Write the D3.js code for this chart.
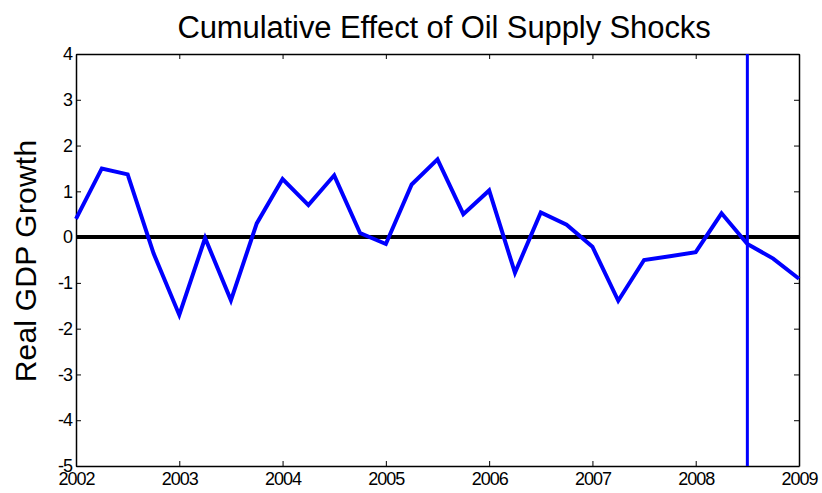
<!DOCTYPE html>
<html>
<head>
<meta charset="utf-8">
<script src="https://cdn.jsdelivr.net/npm/d3@7"></script>
<style>
  body { margin: 0; background: #fff; }
  svg { font-family: "Liberation Sans", Arial, sans-serif; }
</style>
</head>
<body>
<div id="chart"></div>
<script>
const width = 822;
const height = 493;

// quarterly dates, 2002Q1 .. 2009Q1
const quarters = [
    2002.00, 2002.25, 2002.50, 2002.75,
    2003.00, 2003.25, 2003.50, 2003.75,
    2004.00, 2004.25, 2004.50, 2004.75,
    2005.00, 2005.25, 2005.50, 2005.75,
    2006.00, 2006.25, 2006.50, 2006.75,
    2007.00, 2007.25, 2007.50, 2007.75,
    2008.00, 2008.25, 2008.50, 2008.75,
    2009.00
];
const gdpEffect = [
    0.40, 1.50, 1.37, -0.35,
    -1.70, -0.02, -1.38, 0.30,
    1.27, 0.70, 1.35, 0.09,
    -0.15, 1.15, 1.70, 0.50,
    1.02, -0.78, 0.54, 0.27,
    -0.21, -1.39, -0.50, -0.42,
    -0.33, 0.52, -0.15, -0.47,
    -0.91
];
const xTicks = [2002, 2003, 2004, 2005, 2006, 2007, 2008, 2009];
const yTicks = [4, 3, 2, 1, 0, -1, -2, -3, -4, -5];
const markerDate = 2008.5;

const margin = { top: 54, right: 23, bottom: 27, left: 76 };
const innerW = width - margin.left - margin.right;
const innerH = height - margin.top - margin.bottom;

const svg = d3.select('#chart')
    .append('svg')
    .attr('width', width)
    .attr('height', height);

const g = svg.append('g')
    .attr('transform', `translate(${margin.left},${margin.top})`);

const x = d3.scaleLinear().domain([2002, 2009]).range([0, innerW]);
const y = d3.scaleLinear().domain([-5, 4]).range([innerH, 0]);

// plain hyphen for negatives, like the original
const fmt = d => String(d);

// axes, matlab style: inward ticks on all sides
const tickLen = 5;
g.append('g')
    .attr('transform', `translate(0,${innerH})`)
    .call(d3.axisBottom(x).tickValues(xTicks).tickFormat(fmt)
        .tickSizeInner(-tickLen).tickSizeOuter(0).tickPadding(6));
g.append('g')
    .call(d3.axisTop(x).tickValues(xTicks).tickFormat('')
        .tickSizeInner(-tickLen).tickSizeOuter(0));
g.append('g')
    .call(d3.axisLeft(y).tickValues(yTicks).tickFormat(fmt)
        .tickSizeInner(-tickLen).tickSizeOuter(0).tickPadding(4));
g.append('g')
    .attr('transform', `translate(${innerW},0)`)
    .call(d3.axisRight(y).tickValues(yTicks).tickFormat('')
        .tickSizeInner(-tickLen).tickSizeOuter(0));

g.selectAll('.domain').attr('stroke', '#000').attr('stroke-width', 1.5);
g.selectAll('.tick line').attr('stroke', '#000');
g.selectAll('.tick text')
    .attr('fill', '#000')
    .style('font-size', '18px')
    .style('letter-spacing', '-1px');

// zero line
g.append('line')
    .attr('x1', 0).attr('x2', innerW)
    .attr('y1', y(0)).attr('y2', y(0))
    .attr('stroke', '#000')
    .attr('stroke-width', 4);

// vertical marker
g.append('line')
    .attr('x1', x(markerDate)).attr('x2', x(markerDate))
    .attr('y1', 0).attr('y2', innerH)
    .attr('stroke', '#0000ff')
    .attr('stroke-width', 3);

// series
const line = d3.line()
    .x((d, i) => x(quarters[i]))
    .y(d => y(d));

g.append('path')
    .datum(gdpEffect)
    .attr('d', line)
    .attr('fill', 'none')
    .attr('stroke', '#0000ff')
    .attr('stroke-width', 4)
    .attr('stroke-linejoin', 'miter');

// title
svg.append('text')
    .attr('x', 444)
    .attr('y', 38)
    .attr('text-anchor', 'middle')
    .style('font-size', '31px')
    .style('letter-spacing', '-0.1px')
    .text('Cumulative Effect of Oil Supply Shocks');

// y label
svg.append('text')
    .attr('transform', `translate(36,261) rotate(-90)`)
    .attr('text-anchor', 'middle')
    .style('font-size', '30px')
    .style('letter-spacing', '0.2px')
    .text('Real GDP Growth');
</script>
</body>
</html>
